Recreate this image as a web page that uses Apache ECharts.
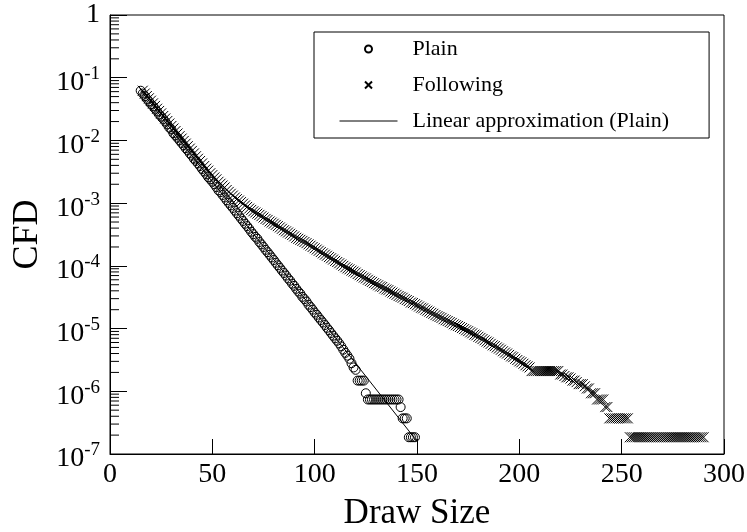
<!DOCTYPE html>
<html><head><meta charset="utf-8">
<script src="https://cdn.jsdelivr.net/npm/echarts@6/dist/echarts.min.js"></script>
<style>html,body{margin:0;padding:0;background:#fff}#c{width:747px;height:532px}</style>
</head><body><div id="c"></div>
<script>
// ---- data ----
const plainStartX = 15;   // first Draw Size of "Plain"
const plainY = [
  6.2e-2, 5.6e-2, 5.1e-2, 4.6e-2, 4.2e-2, 3.8e-2, 3.5e-2, 3.2e-2, 2.9e-2, 2.6e-2,
  2.4e-2, 2.2e-2, 2.0e-2, 1.8e-2, 1.6e-2, 1.5e-2, 1.3e-2, 1.2e-2, 1.1e-2, 1.0e-2,
  9.1e-3, 8.3e-3, 7.5e-3, 6.9e-3, 6.2e-3, 5.7e-3, 5.1e-3, 4.7e-3, 4.3e-3, 3.9e-3,
  3.5e-3, 3.2e-3, 2.9e-3, 2.6e-3, 2.4e-3, 2.2e-3, 2.0e-3, 1.8e-3, 1.6e-3, 1.5e-3,
  1.35e-3, 1.23e-3, 1.11e-3, 1.01e-3, 9.2e-4, 8.4e-4, 7.6e-4, 6.9e-4, 6.3e-4, 5.7e-4,
  5.2e-4, 4.7e-4, 4.3e-4, 3.9e-4, 3.5e-4, 3.2e-4, 2.9e-4, 2.7e-4, 2.4e-4, 2.2e-4,
  2.0e-4, 1.8e-4, 1.65e-4, 1.5e-4, 1.36e-4, 1.24e-4, 1.12e-4, 1.02e-4, 9.3e-5, 8.4e-5,
  7.7e-5, 7.0e-5, 6.3e-5, 5.8e-5, 5.2e-5, 4.8e-5, 4.3e-5, 3.9e-5, 3.6e-5, 3.2e-5,
  2.95e-5, 2.7e-5, 2.4e-5, 2.2e-5, 2.0e-5, 1.8e-5, 1.66e-5, 1.5e-5, 1.37e-5, 1.25e-5,
  1.14e-5, 1.03e-5, 9.4e-6, 8.5e-6, 7.7e-6, 7.0e-6, 6.4e-6, 5.8e-6, 5.2e-6, 4.6e-6,
  4.1e-6, 3.7e-6, 3.3e-6, 2.8e-6, 2.4e-6, 2.2e-6, 1.48e-6, 1.48e-6, 1.48e-6, 1.48e-6,
  9.3e-7, 7.4e-7, 7.4e-7, 7.4e-7, 7.4e-7, 7.4e-7, 7.4e-7, 7.4e-7, 7.4e-7, 7.4e-7,
  7.4e-7, 7.4e-7, 7.4e-7, 7.4e-7, 7.4e-7, 7.4e-7, 7.4e-7, 5.6e-7, 3.7e-7, 3.7e-7,
  3.7e-7, 1.85e-7, 1.85e-7, 1.85e-7, 1.85e-7
];
const followStartX = 16;  // first Draw Size of "Following"
const followY = [
  6.2e-2, 5.6e-2, 5.1e-2, 4.7e-2, 4.3e-2, 3.9e-2, 3.55e-2, 3.2e-2, 2.95e-2, 2.7e-2,
  2.45e-2, 2.24e-2, 2.04e-2, 1.86e-2, 1.7e-2, 1.55e-2, 1.41e-2, 1.29e-2, 1.17e-2, 1.07e-2,
  9.8e-3, 8.9e-3, 8.1e-3, 7.4e-3, 6.8e-3, 6.2e-3, 5.6e-3, 5.1e-3, 4.7e-3, 4.3e-3,
  3.9e-3, 3.55e-3, 3.3e-3, 3.0e-3, 2.8e-3, 2.57e-3, 2.4e-3, 2.19e-3, 2.04e-3, 1.91e-3,
  1.78e-3, 1.62e-3, 1.51e-3, 1.41e-3, 1.32e-3, 1.23e-3, 1.16e-3, 1.1e-3, 1.04e-3, 9.8e-4,
  9.2e-4, 8.7e-4, 8.2e-4, 7.8e-4, 7.4e-4, 7.1e-4, 6.8e-4, 6.5e-4, 6.2e-4, 5.9e-4,
  5.6e-4, 5.4e-4, 5.1e-4, 4.9e-4, 4.7e-4, 4.5e-4, 4.3e-4, 4.1e-4, 3.9e-4, 3.7e-4,
  3.55e-4, 3.4e-4, 3.25e-4, 3.1e-4, 2.95e-4, 2.8e-4, 2.7e-4, 2.6e-4, 2.5e-4, 2.4e-4,
  2.3e-4, 2.2e-4, 2.1e-4, 2.0e-4, 1.91e-4, 1.82e-4, 1.74e-4, 1.66e-4, 1.58e-4, 1.51e-4,
  1.45e-4, 1.38e-4, 1.32e-4, 1.26e-4, 1.2e-4, 1.15e-4, 1.1e-4, 1.05e-4, 1.0e-4, 9.5e-5,
  9.1e-5, 8.8e-5, 8.4e-5, 8.1e-5, 7.8e-5, 7.4e-5, 7.1e-5, 6.8e-5, 6.5e-5, 6.3e-5,
  6.0e-5, 5.75e-5, 5.55e-5, 5.3e-5, 5.1e-5, 4.9e-5, 4.7e-5, 4.6e-5, 4.35e-5, 4.2e-5,
  4.1e-5, 3.9e-5, 3.75e-5, 3.6e-5, 3.45e-5, 3.3e-5, 3.2e-5, 3.1e-5, 2.95e-5, 2.85e-5,
  2.75e-5, 2.6e-5, 2.55e-5, 2.45e-5, 2.35e-5, 2.25e-5, 2.15e-5, 2.1e-5, 2.0e-5, 1.93e-5,
  1.86e-5, 1.78e-5, 1.72e-5, 1.64e-5, 1.58e-5, 1.53e-5, 1.48e-5, 1.41e-5, 1.36e-5, 1.32e-5,
  1.27e-5, 1.23e-5, 1.17e-5, 1.13e-5, 1.1e-5, 1.06e-5, 1.02e-5, 9.8e-6, 9.4e-6, 9.1e-6,
  8.7e-6, 8.4e-6, 8.0e-6, 7.8e-6, 7.4e-6, 7.1e-6, 6.8e-6, 6.5e-6, 6.2e-6, 6.0e-6,
  5.7e-6, 5.4e-6, 5.25e-6, 5.0e-6, 4.8e-6, 4.6e-6, 4.35e-6, 4.15e-6, 4.0e-6, 3.8e-6,
  3.6e-6, 3.5e-6, 3.3e-6, 3.15e-6, 3.0e-6, 2.9e-6, 2.75e-6, 2.6e-6, 2.5e-6, 2.4e-6,
  2.1e-6, 2.1e-6, 2.1e-6, 2.1e-6, 2.1e-6, 2.1e-6, 2.1e-6, 2.1e-6, 2.1e-6, 2.1e-6,
  2.1e-6, 2.1e-6, 2.1e-6, 2.1e-6, 1.85e-6, 1.85e-6, 1.75e-6, 1.67e-6, 1.67e-6, 1.6e-6,
  1.48e-6, 1.48e-6, 1.4e-6, 1.3e-6, 1.3e-6, 1.3e-6, 1.2e-6, 1.11e-6, 1.11e-6, 9.3e-7,
  9.3e-7, 9.3e-7, 7.4e-7, 7.4e-7, 7.4e-7, 7.4e-7, 5.6e-7, 5.6e-7, 3.7e-7, 3.7e-7,
  3.7e-7, 3.7e-7, 3.7e-7, 3.7e-7, 3.7e-7, 3.7e-7, 3.7e-7, 3.7e-7, 1.85e-7, 1.85e-7,
  1.85e-7, 1.85e-7, 1.85e-7, 1.85e-7, 1.85e-7, 1.85e-7, 1.85e-7, 1.85e-7, 1.85e-7, 1.85e-7,
  1.85e-7, 1.85e-7, 1.85e-7, 1.85e-7, 1.85e-7, 1.85e-7, 1.85e-7, 1.85e-7, 1.85e-7, 1.85e-7,
  1.85e-7, 1.85e-7, 1.85e-7, 1.85e-7, 1.85e-7, 1.85e-7, 1.85e-7, 1.85e-7, 1.85e-7, 1.85e-7,
  1.85e-7, 1.85e-7, 1.85e-7, 1.85e-7, 1.85e-7
];
const linearX = [15, 150];
const linearY = [6.2e-2, 1.6e-7];
const seriesNames = ['Plain', 'Following', 'Linear approximation (Plain)'];
const xMin = 0, xMax = 300, xStep = 50;
const yMinExp = -7, yMaxExp = 0;
const minorMultipliers = [2, 3, 4, 5, 6, 7, 8, 9];

// ---- build ----
const FONT = '"Liberation Serif", "Times New Roman", serif';
const XMARK = 'path://M0,0L10,10M10,0L0,10';
const plainData = plainY.map((v, i) => [plainStartX + i, v]);
const followData = followY.map((v, i) => [followStartX + i, v]);
const lineData = linearX.map((x, i) => [x, linearY[i]]);
const minorTickData = [];
for (let e = yMinExp; e < yMaxExp; e++) {
  minorMultipliers.forEach(m => minorTickData.push([xMin, m * Math.pow(10, e)]));
}

const chart = echarts.init(document.getElementById('c'), null, {renderer: 'canvas'});
chart.setOption({
  animation: false,
  backgroundColor: '#fff',
  grid: {left: 110, right: 23, top: 15, bottom: 78, outerBoundsMode: 'none', containLabel: false,
         show: true, borderColor: '#000', borderWidth: 1, backgroundColor: 'transparent'},
  legend: {
    data: [
      {name: seriesNames[0], icon: 'circle'},
      {name: seriesNames[1], icon: XMARK},
      {name: seriesNames[2], itemStyle: {color: 'rgba(0,0,0,0)', borderWidth: 0}}
    ],
    orient: 'vertical', left: 314, top: 32,
    padding: [6, 40, 6, 25],
    itemWidth: 58, itemHeight: 7, itemGap: 14,
    borderColor: '#000', borderWidth: 1, borderRadius: 0,
    selectedMode: false,
    lineStyle: {width: 1},
    textStyle: {fontFamily: FONT, fontSize: 22, color: '#000', lineHeight: 20, padding: [0, 0, 0, 10]}
  },
  xAxis: {
    type: 'value', min: xMin, max: xMax, interval: xStep,
    name: 'Draw Size', nameLocation: 'middle', nameGap: 42,
    nameTextStyle: {fontFamily: FONT, fontSize: 35, color: '#000'},
    axisLine: {lineStyle: {color: '#000', width: 1}},
    axisTick: {inside: true, length: 15, lineStyle: {color: '#000', width: 1}},
    axisLabel: {fontFamily: FONT, fontSize: 28, color: '#000', margin: 7},
    splitLine: {show: false}
  },
  yAxis: {
    type: 'log', logBase: 10, min: Math.pow(10, yMinExp), max: Math.pow(10, yMaxExp),
    name: 'CFD', nameLocation: 'middle', nameGap: 64, nameRotate: 90,
    nameTextStyle: {fontFamily: FONT, fontSize: 36, color: '#000'},
    axisLine: {lineStyle: {color: '#000', width: 1}},
    axisTick: {inside: true, length: 17, lineStyle: {color: '#000', width: 1}},
    axisLabel: {
      margin: 10,
      formatter: v => {
        const e = Math.round(Math.log10(v));
        return e === 0 ? '{one|1}' : '{b|10}{s|' + e + '}';
      },
      rich: {
        one: {fontFamily: FONT, fontSize: 28, color: '#000'},
        b: {fontFamily: FONT, fontSize: 28, color: '#000', verticalAlign: 'bottom', padding: [10, 0, 0, 0]},
        s: {fontFamily: FONT, fontSize: 19, color: '#000', verticalAlign: 'top', padding: [6, 0, 0, 0]}
      }
    },
    splitLine: {show: false}
  },
  series: [
    {
      name: seriesNames[0], type: 'scatter', data: plainData,
      symbol: 'circle', symbolSize: 9,
      itemStyle: {color: 'rgba(0,0,0,0)', borderColor: '#000', borderWidth: 1, opacity: 1},
      emphasis: {disabled: true}, z: 3
    },
    {
      name: seriesNames[1], type: 'scatter', data: followData,
      symbol: XMARK, symbolSize: 10,
      itemStyle: {color: 'rgba(0,0,0,0)', borderColor: '#000', borderWidth: 1, opacity: 1},
      emphasis: {disabled: true}, z: 3
    },
    {
      name: seriesNames[2], type: 'line', data: lineData,
      symbol: 'none', showSymbol: false, lineStyle: {color: '#000', width: 1},
      emphasis: {disabled: true}, z: 4
    },
    {
      name: 'minorTicks', type: 'custom', data: minorTickData, silent: true, z: 5,
      renderItem: (params, api) => {
        const p = api.coord([api.value(0), api.value(1)]);
        return {type: 'line', shape: {x1: p[0], y1: p[1], x2: p[0] + 9, y2: p[1]},
                style: {stroke: '#000', lineWidth: 1}};
      }
    }
  ]
});
</script>
</body></html>
